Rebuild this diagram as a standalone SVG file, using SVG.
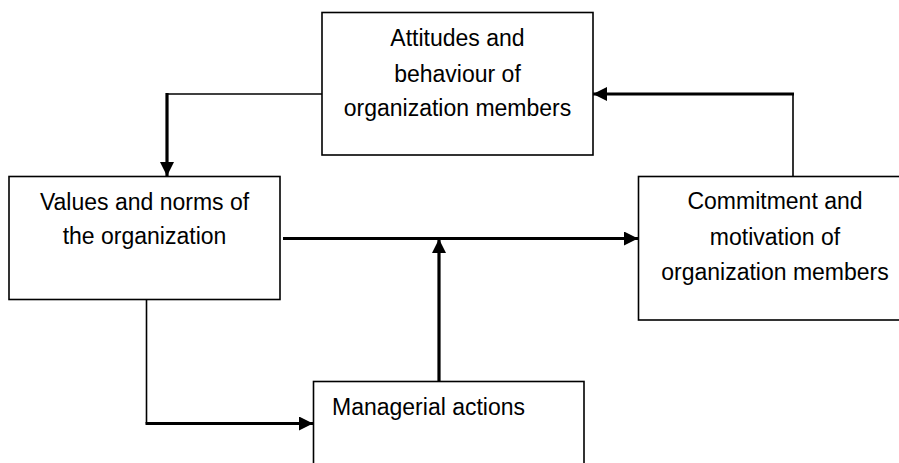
<svg xmlns="http://www.w3.org/2000/svg" width="899" height="463" viewBox="0 0 899 463">
<style>
.box{fill:#fff;stroke:#000;stroke-width:1.6}
.t{font-family:"Liberation Sans",Arial,sans-serif;font-size:23px;fill:#000}
.c{text-anchor:middle}
.thin{fill:none;stroke:#000;stroke-width:1.6}
.thick{fill:none;stroke:#000;stroke-width:3.2}
</style>
<defs>
<marker id="ah" viewBox="0 0 14 14" refX="14" refY="7" markerWidth="14" markerHeight="14" markerUnits="userSpaceOnUse" orient="auto">
<path d="M0,0 L14,7 L0,14 z" fill="#000"/>
</marker>
</defs>
<rect width="899" height="463" fill="#fff"/>
<g id="connectors">
<line class="thin" x1="322" y1="94" x2="167" y2="94"/>
<line class="thick" x1="167" y1="93" x2="167" y2="176" marker-end="url(#ah)"/>
<line class="thin" x1="793" y1="176" x2="793" y2="94"/>
<line class="thick" x1="794" y1="94" x2="593" y2="94" marker-end="url(#ah)"/>
<line class="thick" x1="283" y1="238.5" x2="638" y2="238.5" marker-end="url(#ah)"/>
<line class="thick" x1="439" y1="382" x2="439" y2="239" marker-end="url(#ah)"/>
<line class="thin" x1="146.5" y1="299" x2="146.5" y2="423.5"/>
<line class="thick" x1="145.5" y1="423.5" x2="313" y2="423.5" marker-end="url(#ah)"/>
</g>
<g id="attitudes">
<rect class="box" x="322" y="12.5" width="271" height="142.5"/>
<text class="t c" x="457.5" y="46">Attitudes and</text>
<text class="t c" x="457.5" y="81.5">behaviour of</text>
<text class="t c" x="457.5" y="116">organization members</text>
</g>
<g id="values">
<rect class="box" x="9" y="176.5" width="271" height="123"/>
<text class="t c" x="144.5" y="210">Values and norms of</text>
<text class="t c" x="144.5" y="243.5">the organization</text>
</g>
<g id="commitment">
<rect class="box" x="638.5" y="176.5" width="264" height="143.5"/>
<text class="t c" x="775" y="209">Commitment and</text>
<text class="t c" x="775" y="244.5">motivation of</text>
<text class="t c" x="775" y="280">organization members</text>
</g>
<g id="managerial">
<rect class="box" x="313.5" y="381.5" width="270.5" height="90"/>
<text class="t" x="332" y="414.5">Managerial actions</text>
</g>
</svg>
